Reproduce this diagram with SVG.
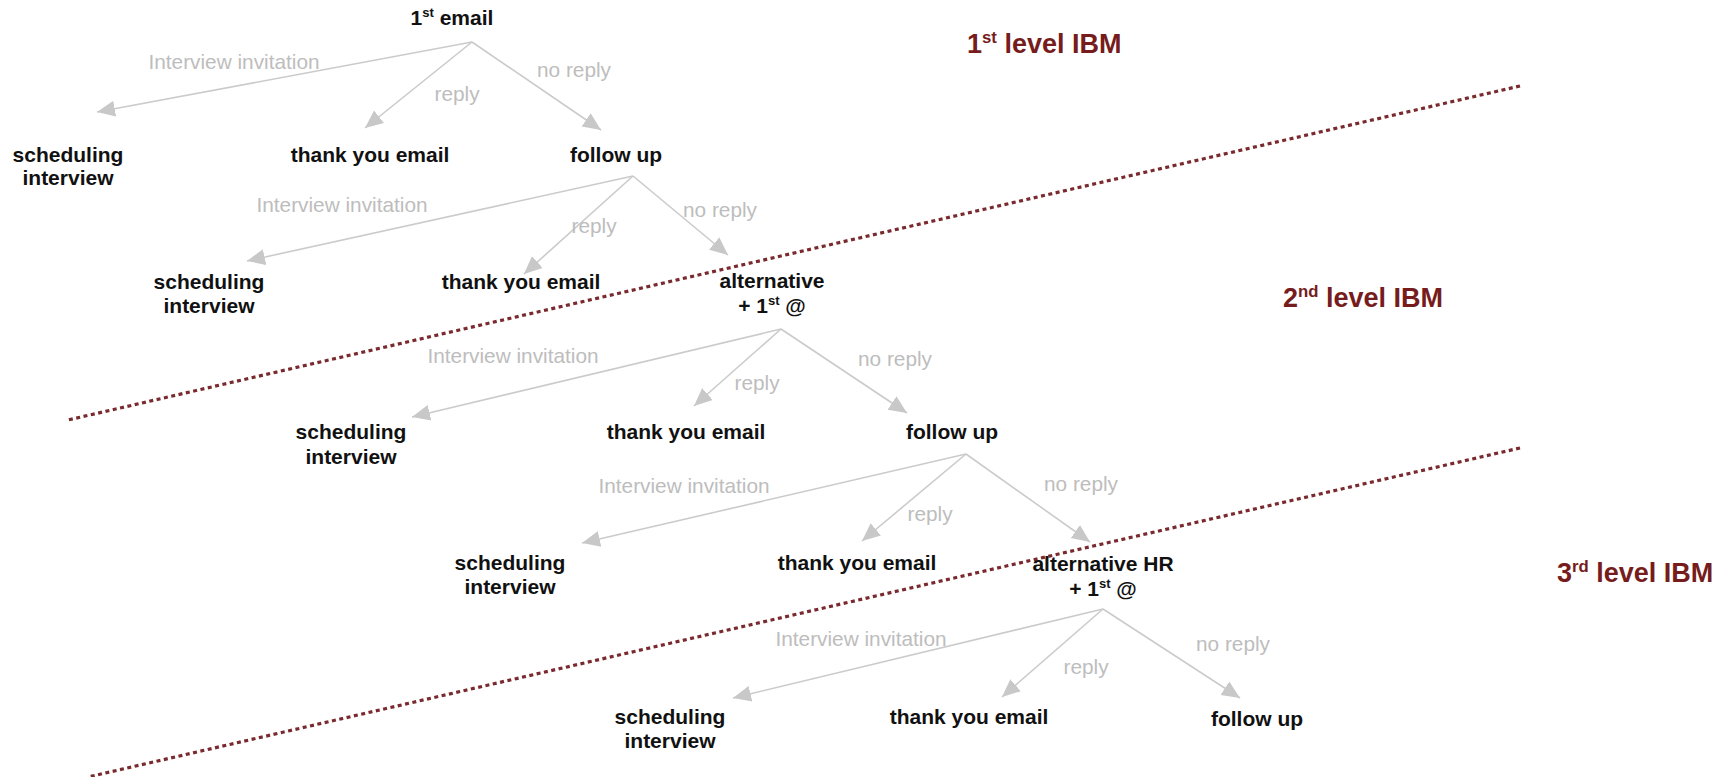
<svg xmlns="http://www.w3.org/2000/svg" width="1721" height="777" viewBox="0 0 1721 777">
<style>
.n{font-family:"Liberation Sans",Arial,sans-serif;font-weight:bold;font-size:21px;fill:#111;text-anchor:middle}
.l{font-family:"Liberation Sans",Arial,sans-serif;font-size:20.8px;fill:#bdbdbd;text-anchor:middle}
.v{font-family:"Liberation Sans",Arial,sans-serif;font-weight:bold;font-size:27px;fill:#761c1c}
.e{stroke:#cbcbcb;stroke-width:1.6;fill:none;marker-end:url(#ah)}
.d{stroke:#7a2a2e;stroke-width:3.2;stroke-dasharray:4 3.5;fill:none}
.s{font-size:62%}
</style>
<defs>
<marker id="ah" markerUnits="userSpaceOnUse" markerWidth="20" markerHeight="18" refX="18" refY="9" orient="auto" viewBox="0 0 20 18">
<path d="M0,1 L18,9 L0,17 z" fill="#c8c8c8"/>
</marker>
</defs>
<g id="dividers">
<line class="d" x1="1520" y1="86" x2="68" y2="420"/>
<line class="d" x1="1520" y1="448" x2="88" y2="777"/>
</g>
<g id="levels">
<text class="v" x="967" y="53">1<tspan class="s" dy="-10">st</tspan><tspan dy="10"> level IBM</tspan></text>
<text class="v" x="1283" y="307">2<tspan class="s" dy="-10">nd</tspan><tspan dy="10"> level IBM</tspan></text>
<text class="v" x="1557" y="582">3<tspan class="s" dy="-10">rd</tspan><tspan dy="10"> level IBM</tspan></text>
</g>
<g id="connectors">
<line class="e" x1="472" y1="42" x2="97" y2="112"/>
<line class="e" x1="472" y1="42" x2="365" y2="128"/>
<line class="e" x1="472" y1="42" x2="601" y2="130"/>
<line class="e" x1="633" y1="176" x2="247" y2="261"/>
<line class="e" x1="633" y1="176" x2="524" y2="274"/>
<line class="e" x1="633" y1="176" x2="728" y2="255"/>
<line class="e" x1="781" y1="329" x2="412" y2="417"/>
<line class="e" x1="781" y1="329" x2="694" y2="406"/>
<line class="e" x1="781" y1="329" x2="907" y2="413"/>
<line class="e" x1="966" y1="454" x2="582" y2="543"/>
<line class="e" x1="966" y1="454" x2="862" y2="541"/>
<line class="e" x1="966" y1="454" x2="1090" y2="542"/>
<line class="e" x1="1103" y1="609" x2="733" y2="698"/>
<line class="e" x1="1103" y1="609" x2="1002" y2="697"/>
<line class="e" x1="1103" y1="609" x2="1240" y2="698"/>
<text class="l" x="234" y="69">Interview invitation</text>
<text class="l" x="457" y="101">reply</text>
<text class="l" x="574" y="77">no reply</text>
<text class="l" x="342" y="212">Interview invitation</text>
<text class="l" x="594" y="233">reply</text>
<text class="l" x="720" y="217">no reply</text>
<text class="l" x="513" y="363">Interview invitation</text>
<text class="l" x="757" y="390">reply</text>
<text class="l" x="895" y="366">no reply</text>
<text class="l" x="684" y="493">Interview invitation</text>
<text class="l" x="930" y="521">reply</text>
<text class="l" x="1081" y="491">no reply</text>
<text class="l" x="861" y="646">Interview invitation</text>
<text class="l" x="1086" y="674">reply</text>
<text class="l" x="1233" y="651">no reply</text>
</g>
<g id="n-first-email"><text class="n" x="452" y="25">1<tspan class="s" dy="-8">st</tspan><tspan dy="8"> email</tspan></text></g>
<g id="n-sched-1"><text class="n" x="68" y="162">scheduling</text><text class="n" x="68" y="185">interview</text></g>
<g id="n-thanks-1"><text class="n" x="370" y="162">thank you email</text></g>
<g id="n-follow-1"><text class="n" x="616" y="162">follow up</text></g>
<g id="n-sched-2"><text class="n" x="209" y="289">scheduling</text><text class="n" x="209" y="313">interview</text></g>
<g id="n-thanks-2"><text class="n" x="521" y="289">thank you email</text></g>
<g id="n-alt-1"><text class="n" x="772" y="288">alternative</text><text class="n" x="772" y="313">+ 1<tspan class="s" dy="-8">st</tspan><tspan dy="8"> @</tspan></text></g>
<g id="n-sched-3"><text class="n" x="351" y="439">scheduling</text><text class="n" x="351" y="464">interview</text></g>
<g id="n-thanks-3"><text class="n" x="686" y="439">thank you email</text></g>
<g id="n-follow-2"><text class="n" x="952" y="439">follow up</text></g>
<g id="n-sched-4"><text class="n" x="510" y="570">scheduling</text><text class="n" x="510" y="594">interview</text></g>
<g id="n-thanks-4"><text class="n" x="857" y="570">thank you email</text></g>
<g id="n-alt-hr"><text class="n" x="1103" y="571">alternative HR</text><text class="n" x="1103" y="596">+ 1<tspan class="s" dy="-8">st</tspan><tspan dy="8"> @</tspan></text></g>
<g id="n-sched-5"><text class="n" x="670" y="724">scheduling</text><text class="n" x="670" y="748">interview</text></g>
<g id="n-thanks-5"><text class="n" x="969" y="724">thank you email</text></g>
<g id="n-follow-3"><text class="n" x="1257" y="726">follow up</text></g>
</svg>
